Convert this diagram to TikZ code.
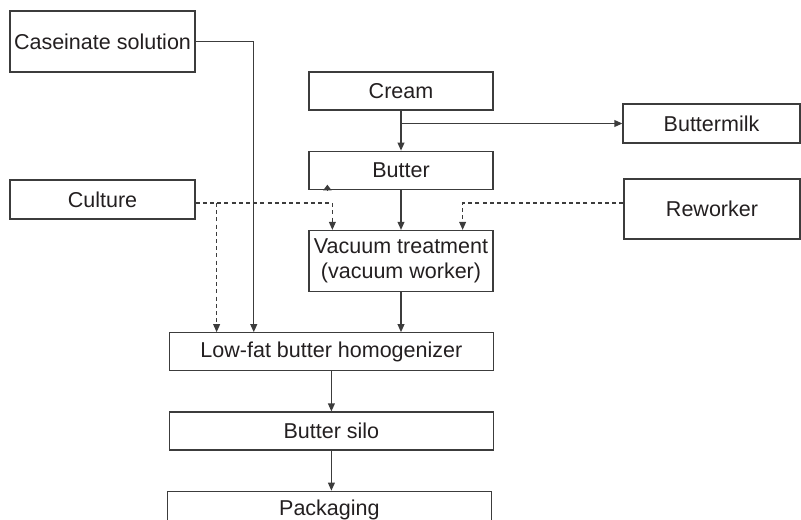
\documentclass[tikz,border=0pt]{standalone}
\usepackage{xcolor}
\definecolor{lnclr}{HTML}{3C3C3C}
\definecolor{txclr}{HTML}{231F20}
\usepackage{fontspec}
\setmainfont{Liberation Sans}
\usepackage{tikz}
\usetikzlibrary{arrows.meta,positioning}

\begin{document}
\begin{tikzpicture}[>={Triangle[length=2mm,width=1.7mm]},node distance=10mm]
\tikzset{
 box/.style={draw=lnclr,line width=0.9pt,text=txclr,minimum width=46mm,minimum height=9.5mm,inner sep=1mm,align=center,font=\fontsize{15.3}{18}\selectfont},
 widebox/.style={box,minimum width=81mm},
 arrow/.style={->,draw=lnclr,line width=0.9pt},
 feed/.style={arrow,dash pattern=on 1mm off 0.8mm}
}
\useasboundingbox (0,0) rectangle (200.25mm,-130mm);
% main line
\node[box] (cream) at (100.25mm,-22.75mm) {Cream};
\node[box,below=of cream] (butter) {Butter};
\node[box,below=of butter,minimum height=15.25mm] (vac) {Vacuum treatment\\(vacuum worker)};
\node[widebox,below=of vac,xshift=-17.4mm] (homog) {Low-fat butter homogenizer};
\node[widebox,below=of homog] (silo) {Butter silo};
\node[widebox,below=of silo,xshift=-0.5mm] (pack) {Packaging};
% side streams
\node[box,minimum width=46.25mm,minimum height=15.25mm] (cas) at (25.625mm,-10.375mm) {Caseinate solution};
\node[box,minimum width=46.25mm,minimum height=9.75mm] (cult) at (25.625mm,-49.875mm) {Culture};
\node[box,minimum width=44.25mm,minimum height=9.75mm] (milk) at (177.875mm,-30.875mm) {Buttermilk};
\node[box,minimum width=44mm,minimum height=15mm] (rework) at (178mm,-52.25mm) {Reworker};

\draw[arrow] (cream)--(butter);
\draw[arrow] (cream.south |- milk.west)--(milk.west);
\draw[arrow] (butter)--(vac);
\draw[arrow] (vac.south)--(vac.south |- homog.north);
\draw[arrow] (homog.south -| silo.north)--(silo.north);
\draw[arrow] (silo.south)--(silo.south |- pack.north);
% stub tip on the lower edge of the butter box
\coordinate (back) at ([xshift=4.75mm]butter.south west);
\draw[draw=lnclr,line width=0.9pt,-{Triangle[length=1.4mm,width=2mm]}] (back)--([yshift=1.3mm]back);
\draw[arrow] (cas.east) -| ([xshift=21.25mm]homog.north west);
\coordinate (split) at ([xshift=5.25mm,yshift=-0.9mm]cult.east);
\draw[feed] (cult.east |- split) -| ([xshift=6mm]vac.north west);
\draw[feed] (split)--(split |- homog.north);
\draw[feed] ([yshift=1.5mm]rework.west) -| ([xshift=-7.75mm]vac.north east);
\end{tikzpicture}
\end{document}
